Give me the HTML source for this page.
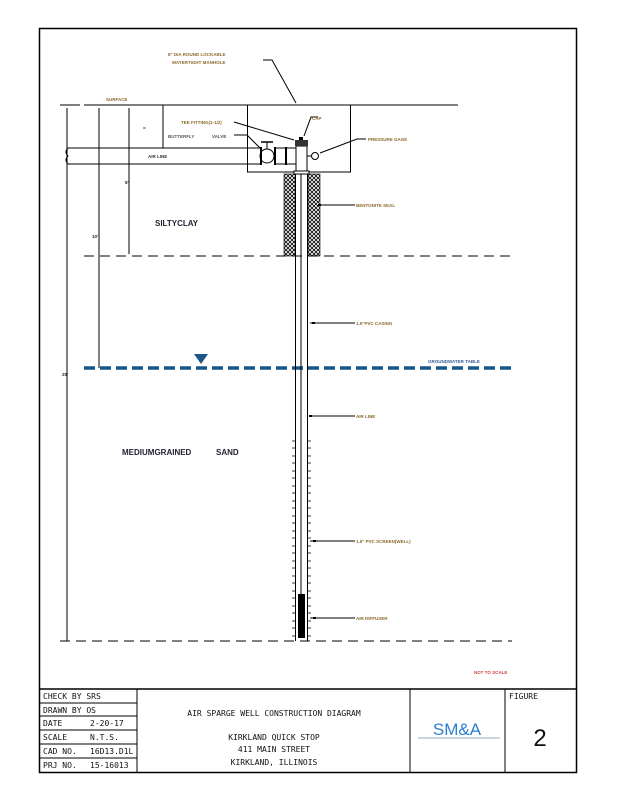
<!DOCTYPE html>
<html><head><meta charset="utf-8"><style>
body{margin:0;background:#fff}
svg{display:block}
text{font-family:"Liberation Sans",sans-serif}
.t{font-family:"DejaVu Sans Mono","Liberation Mono",monospace;font-size:8px;fill:#111}
.s{font-size:4.5px;fill:#8a6a2a;font-weight:bold}
.b{font-size:4.5px;fill:#3a5a9a;font-weight:bold}
</style></head><body>
<svg width="618" height="800" viewBox="0 0 618 800" xmlns="http://www.w3.org/2000/svg">
<defs>
<pattern id="h" width="4" height="4" patternUnits="userSpaceOnUse">
<path d="M0 0L4 4M4 0L0 4" stroke="#000" stroke-width="0.8"/>
</pattern>
</defs>
<rect x="39.5" y="28.5" width="537" height="744" fill="none" stroke="#000" stroke-width="1.5"/>
<!-- surface -->
<line x1="60" y1="105" x2="80" y2="105" stroke="#000"/>
<line x1="84" y1="105" x2="458" y2="105" stroke="#000"/>
<text x="106" y="101" class="s">SURFACE</text>
<!-- dimension lines -->
<line x1="67" y1="108" x2="67" y2="641" stroke="#000"/>
<line x1="99" y1="108" x2="99" y2="368" stroke="#000"/>
<line x1="129" y1="108" x2="129" y2="254" stroke="#000"/>
<line x1="163" y1="105" x2="163" y2="148" stroke="#000"/>
<text x="125" y="184" class="s" fill="#000" style="fill:#222">5'</text>
<text x="92" y="238" class="s" style="fill:#222">10'</text>
<text x="62" y="376" class="s" style="fill:#222">25'</text>
<text x="143" y="130" class="s" style="fill:#222">=</text>
<!-- silty clay dashed -->
<line x1="84" y1="256" x2="512" y2="256" stroke="#000" stroke-dasharray="10,6"/>
<text x="155" y="226" font-size="8" font-weight="bold" fill="#223">SILTYCLAY</text>
<!-- water table -->
<line x1="84" y1="368" x2="512" y2="368" stroke="#1a5788" stroke-width="3.5" stroke-dasharray="11,5"/>
<polygon points="194,354 208,354 201,364" fill="#1a5788"/>
<text x="428" y="363" class="b">GROUNDWATER TABLE</text>
<text x="122" y="455" font-size="8" font-weight="bold" fill="#223">MEDIUMGRAINED</text>
<text x="216" y="455" font-size="8" font-weight="bold" fill="#223">SAND</text>
<!-- bottom dashed -->
<line x1="60" y1="641" x2="512" y2="641" stroke="#000" stroke-dasharray="10,6"/>
<!-- vault -->
<rect x="247.5" y="105" width="103" height="67" fill="#fff" stroke="#000"/>
<!-- pipe -->
<path d="M68 148 L262 148 M68 164 L262 164 M68 148 q-4 4 0 8 q-4 4 0 8" fill="none" stroke="#000"/>
<text x="148" y="158" class="s" style="fill:#333">AIR LINE</text>
<!-- valve -->
<circle cx="267" cy="156" r="7" fill="#fff" stroke="#000"/>
<rect x="260" y="147" width="2" height="18" fill="#000"/>
<rect x="274" y="147" width="2" height="18" fill="#000"/>
<rect x="285" y="147" width="2" height="18" fill="#000"/>
<line x1="276" y1="148" x2="296" y2="148" stroke="#000"/>
<line x1="276" y1="164" x2="296" y2="164" stroke="#000"/>
<line x1="267" y1="142" x2="267" y2="149" stroke="#000"/>
<line x1="261" y1="142" x2="273" y2="142" stroke="#000" stroke-width="1.5"/>
<!-- tee / cap -->
<rect x="296" y="146" width="11" height="26" fill="#fff" stroke="#000"/>
<rect x="295" y="140" width="13" height="6" fill="#333"/>
<rect x="299" y="137" width="4" height="3" fill="#000"/>
<rect x="294" y="171" width="15" height="3" fill="#fff" stroke="#000"/>
<circle cx="315" cy="156" r="3.5" fill="#fff" stroke="#000"/>
<line x1="307" y1="156" x2="311" y2="156" stroke="#000"/>
<!-- bentonite -->
<rect x="284" y="174" width="11" height="82" fill="url(#h)" stroke="#000" stroke-width="0.6"/>
<rect x="308" y="174" width="12" height="82" fill="url(#h)" stroke="#000" stroke-width="0.6"/>
<!-- casing -->
<line x1="295.5" y1="174" x2="295.5" y2="641" stroke="#000"/>
<line x1="301" y1="174" x2="301" y2="638" stroke="#000"/>
<line x1="307.5" y1="174" x2="307.5" y2="641" stroke="#000"/>
<!-- screen ticks -->
<g stroke="#000" stroke-width="0.8">
<path d="M292 441h3M308 441h3M292 448h3M308 448h3M292 456h3M308 456h3M292 463h3M308 463h3M292 471h3M308 471h3M292 478h3M308 478h3M292 486h3M308 486h3M292 493h3M308 493h3M292 501h3M308 501h3M292 508h3M308 508h3M292 516h3M308 516h3M292 523h3M308 523h3M292 531h3M308 531h3M292 538h3M308 538h3M292 546h3M308 546h3M292 553h3M308 553h3M292 561h3M308 561h3M292 568h3M308 568h3M292 576h3M308 576h3M292 583h3M308 583h3M292 591h3M308 591h3M292 598h3M308 598h3M292 606h3M308 606h3M292 613h3M308 613h3M292 621h3M308 621h3M292 628h3M308 628h3M292 636h3M308 636h3"/>
</g>
<rect x="298" y="594" width="7" height="44" fill="#000"/>
<!-- leaders -->
<g stroke="#000" fill="none">
<path d="M263 60 L272 60 L296 103"/>
<path d="M234 122 L294 140"/>
<path d="M234 135 L247 135 L262 150"/>
<path d="M318 117 L311 117 L304 136"/>
<path d="M366 139 L357 139 L320 153"/>
<path d="M320 205 L355 205"/>
<path d="M310 323 L355 323"/>
<path d="M310 416 L355 416"/>
<path d="M310 541 L355 541"/>
<path d="M310 618 L355 618"/>
</g>
<g fill="#000"><rect x="312" y="322" width="3" height="2"/><rect x="309" y="415" width="3" height="2"/><rect x="313" y="540" width="3" height="2"/><rect x="313" y="617" width="3" height="2"/><rect x="318" y="204" width="3" height="2"/></g>
<text x="168" y="56" class="s">8" DIA ROUND LOCKABLE</text>
<text x="172" y="64" class="s">WATERTIGHT MANHOLE</text>
<text x="181" y="124" class="s">TEE FITTING(1-1/2)</text>
<text x="168" y="138" class="s" style="fill:#555">BUTTERFLY</text>
<text x="212" y="138" class="s" style="fill:#555">VALVE</text>
<text x="312" y="120" class="s">CAP</text>
<text x="368" y="141" class="s">PRESSURE GAGE</text>
<text x="356" y="207" class="s">BENTONITE SEAL</text>
<text x="356" y="325" class="s">1.5"PVC  CASING</text>
<text x="356" y="418" class="s">AIR LINE</text>
<text x="356" y="543" class="s">1.5" PVC SCREEN(WELL)</text>
<text x="356" y="620" class="s">AIR DIFFUSER</text>
<text x="474" y="674" class="s" style="fill:#c44">NOT TO SCALE</text>
<!-- title block -->
<g stroke="#000" fill="none">
<line x1="39" y1="689" x2="576" y2="689" stroke-width="1.5"/>
<line x1="137" y1="689" x2="137" y2="772"/>
<line x1="410" y1="689" x2="410" y2="772"/>
<line x1="505" y1="689" x2="505" y2="772"/>
<path d="M39 703H137M39 716H137M39 730H137M39 744H137M39 758H137"/>
</g>
<text x="43" y="699" class="t">CHECK BY SRS</text>
<text x="43" y="713" class="t">DRAWN BY OS</text>
<text x="43" y="726" class="t">DATE</text><text x="90" y="726" class="t">2-20-17</text>
<text x="43" y="740" class="t">SCALE</text><text x="90" y="740" class="t">N.T.S.</text>
<text x="43" y="754" class="t">CAD NO.</text><text x="90" y="754" class="t">16D13.D1L</text>
<text x="43" y="768" class="t">PRJ NO.</text><text x="90" y="768" class="t">15-16013</text>
<text x="274" y="716" class="t" text-anchor="middle">AIR SPARGE WELL CONSTRUCTION DIAGRAM</text>
<text x="274" y="740" class="t" text-anchor="middle">KIRKLAND QUICK STOP</text>
<text x="274" y="752" class="t" text-anchor="middle">411 MAIN STREET</text>
<text x="274" y="765" class="t" text-anchor="middle">KIRKLAND, ILLINOIS</text>
<text x="457" y="735" text-anchor="middle" font-family="Liberation Serif" font-size="17" fill="#2a7fd0">SM&amp;A</text>
<line x1="418" y1="738" x2="500" y2="738" stroke="#9ab" stroke-width="1"/>
<text x="509" y="699" class="t">FIGURE</text>
<text x="540" y="746" font-size="24" text-anchor="middle" fill="#111">2</text>
</svg>
</body></html>
